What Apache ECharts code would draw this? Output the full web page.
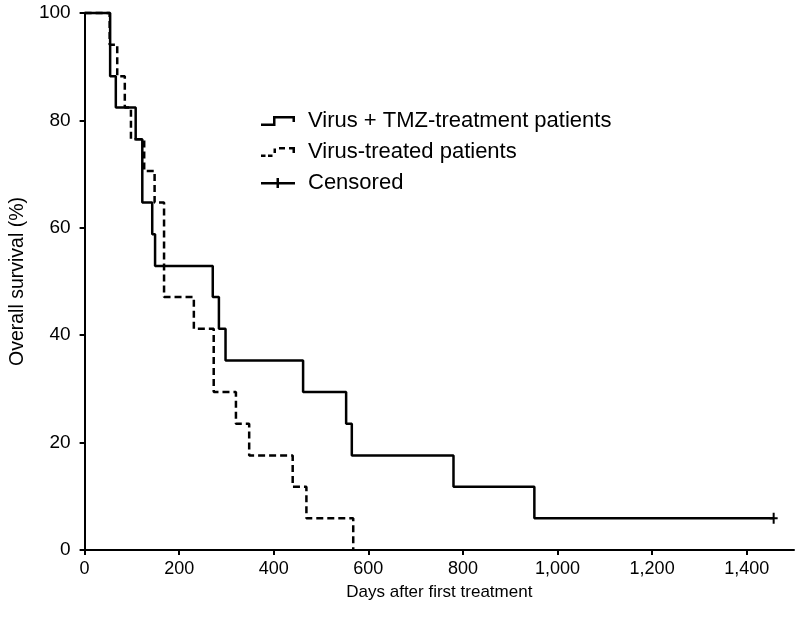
<!DOCTYPE html>
<html>
<head>
<meta charset="utf-8">
<title>Overall survival</title>
<script src="https://cdn.jsdelivr.net/npm/echarts@6/dist/echarts.min.js"></script>
<style>
  html, body { margin: 0; padding: 0; background: #fff; }
  #chart { width: 796px; height: 621px; }
</style>
</head>
<body>
<div id="chart"></div>
<script>
// Kaplan-Meier steps (days, survival % after the event)
const tmzDays = [0, 54, 66, 108, 122, 143, 149, 271, 284, 298, 462, 553, 565, 780, 951, 1457]
const tmzSurvival = [100, 88.2, 82.4, 76.5, 64.7, 58.8, 52.9, 47.1, 41.2, 35.3, 29.4, 23.5, 17.6, 11.8, 5.9, 5.9]

const virusDays = [0, 53, 69, 85, 98, 126, 148, 168, 231, 273, 320, 348, 440, 469, 568]
const virusSurvival = [100, 94.1, 88.2, 82.4, 76.5, 70.6, 64.7, 47.1, 41.2, 29.4, 23.5, 17.6, 11.8, 5.9, 0]

const censoredDays = [1457]
const censoredSurvival = [5.9]

const xTicks = [0, 200, 400, 600, 800, 1000, 1200, 1400]
const yTicks = [0, 20, 40, 60, 80, 100]

const seriesNames = ['Virus + TMZ-treatment patients', 'Virus-treated patients', 'Censored']

const font = '"Liberation Sans", Arial, Helvetica, sans-serif'

// legend icons (drawn as filled shapes)
const solidIcon = 'path://M0,7.5 H12 V0 H34 V6 H31.5 V2.5 H14.5 V10 H0 Z'
const dashedIcon = 'path://M0,7.5 H4.5 V10 H0 Z M7,7.5 H11.5 V10 H7 Z M12.5,1.5 H15 V6 H12.5 Z M18,0 H24 V2.5 H18 Z M28,0 H34 V6 H31.5 V2.5 H28 Z'
const plusIcon = 'path://M0,4 H15.5 V0 H18 V4 H34 V6.5 H18 V10 H15.5 V6.5 H0 Z'
const plusSymbol = 'path://M3,0 H5 V4.5 H8 V6.5 H5 V11 H3 V6.5 H0 V4.5 H3 Z'

const zip = (xs, ys) => xs.map((x, i) => [x, ys[i]])

const chart = echarts.init(document.getElementById('chart'))

const option = {
  animation: false,
  backgroundColor: '#fff',
  textStyle: { fontFamily: font, color: '#000' },
  grid: { left: 80, right: 2, top: 13, bottom: 71 },
  legend: {
    orient: 'vertical',
    left: 256,
    top: 105,
    itemWidth: 34,
    itemHeight: 11,
    itemGap: 9,
    textStyle: { fontSize: 22, color: '#000', fontFamily: font, lineHeight: 22, padding: [0, 0, 0, 8] },
    data: [
      { name: seriesNames[0], icon: solidIcon },
      { name: seriesNames[1], icon: dashedIcon },
      { name: seriesNames[2], icon: plusIcon }
    ]
  },
  xAxis: {
    type: 'value',
    min: 0,
    max: 1500,
    name: 'Days after first treatment',
    nameLocation: 'middle',
    nameGap: 34,
    nameTextStyle: { fontSize: 17, color: '#000' },
    axisLine: { show: true, onZero: false, lineStyle: { color: '#000', width: 2 } },
    axisTick: { show: true, length: 5, lineStyle: { color: '#000', width: 2 }, customValues: xTicks },
    axisLabel: {
      fontSize: 18,
      color: '#000',
      margin: 10,
      customValues: xTicks,
      formatter: v => v.toLocaleString('en-US')
    },
    splitLine: { show: false }
  },
  yAxis: {
    type: 'value',
    min: 0,
    max: 100,
    interval: 20,
    name: 'Overall survival (%)',
    nameLocation: 'middle',
    nameGap: 56,
    nameTextStyle: { fontSize: 19.5, color: '#000' },
    axisLine: { show: true, onZero: false, lineStyle: { color: '#000', width: 2 } },
    axisTick: { show: true, length: 5, lineStyle: { color: '#000', width: 2 }, customValues: yTicks },
    axisLabel: { fontSize: 19, color: '#000', margin: 14, customValues: yTicks },
    splitLine: { show: false }
  },
  series: [
    {
      name: seriesNames[0],
      type: 'line',
      step: 'end',
      clip: false,
      symbol: 'none',
      color: '#000',
      lineStyle: { color: '#000', width: 2.5 },
      data: zip(tmzDays, tmzSurvival)
    },
    {
      name: seriesNames[1],
      type: 'line',
      step: 'end',
      clip: false,
      symbol: 'none',
      color: '#000',
      lineStyle: { color: '#000', width: 2.5, type: [7, 4] },
      data: zip(virusDays, virusSurvival)
    },
    {
      name: seriesNames[2],
      type: 'scatter',
      clip: false,
      symbol: plusSymbol,
      symbolSize: [8, 11],
      color: '#000',
      itemStyle: { color: '#000', opacity: 1 },
      data: zip(censoredDays, censoredSurvival)
    }
  ]
}

chart.setOption(option)
window.addEventListener('resize', () => chart.resize())
</script>
</body>
</html>
